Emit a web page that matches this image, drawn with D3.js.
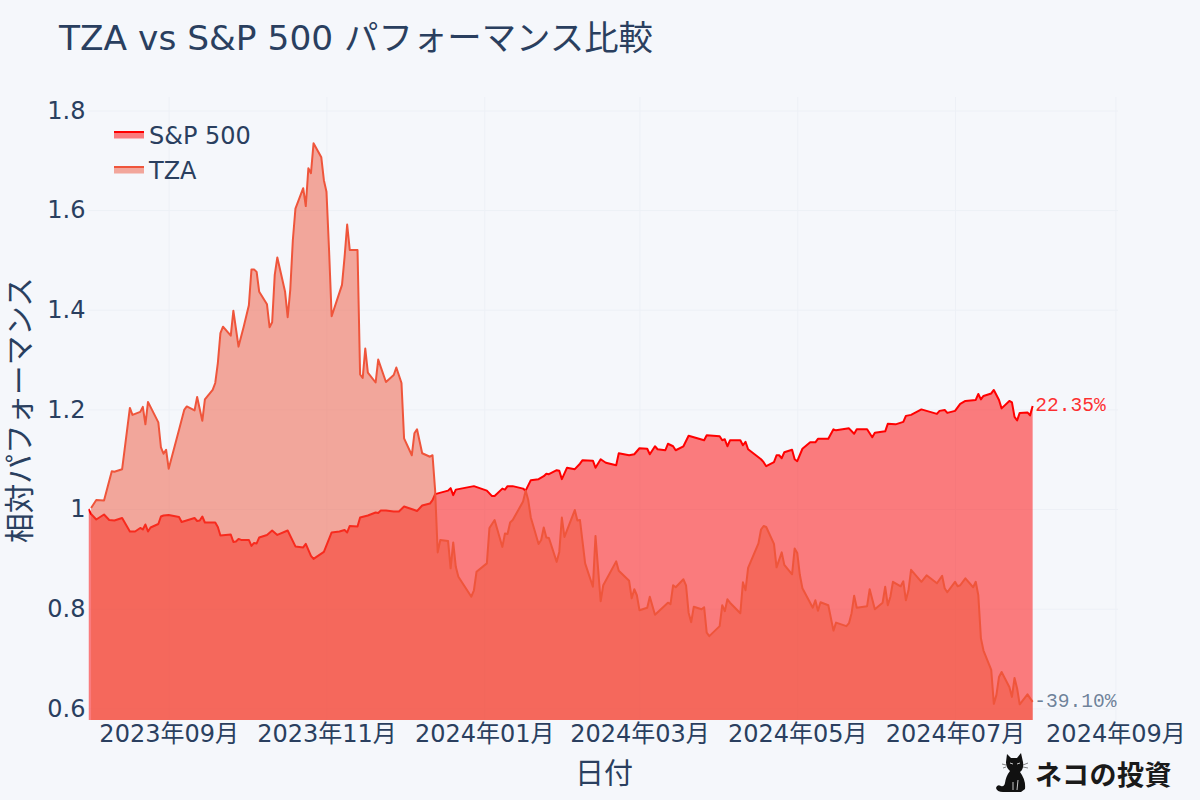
<!DOCTYPE html>
<html><head><meta charset="utf-8">
<script src="https://cdn.jsdelivr.net/npm/d3@7"></script>
<style>html,body{margin:0;padding:0;background:#f5f7fb}svg{display:block}</style>
</head><body><svg id="c" width="1200" height="800"></svg>
<script>
// Data: days since the start date, and relative performance
const startDate = "2023-08-01";
const spDays = [0,1,3,6,8,10,13,15,16,18,20,21,22,23,24,27,28,29,31,35,36,41,42,43,44,45,49,50,51,55,56,57,58,59,62,63,64,65,66,69,71,73,77,80,83,84,86,87,91,94,97,99,100,101,104,105,108,111,112,113,115,118,120,122,126,127,129,132,133,134,139,140,141,142,149,154,156,157,160,161,162,164,168,169,171,174,176,177,178,181,182,183,185,188,190,191,195,196,198,200,204,205,209,211,213,216,217,219,220,223,224,226,227,230,232,238,239,244,245,246,247,248,252,253,254,255,260,261,262,265,266,267,268,269,272,273,274,276,279,281,282,286,288,289,294,296,297,301,303,304,308,309,312,315,316,318,322,328,329,331,332,335,337,339,343,344,345,346,349,350,352,353,356,357,358,359,360,363,364,365];
const spValues = [1.000,0.990,0.979,0.989,0.978,0.977,0.982,0.964,0.955,0.955,0.962,0.959,0.969,0.955,0.963,0.970,0.985,0.987,0.988,0.984,0.974,0.982,0.976,0.977,0.985,0.973,0.973,0.964,0.947,0.949,0.934,0.935,0.940,0.938,0.938,0.926,0.932,0.931,0.943,0.948,0.957,0.948,0.957,0.925,0.923,0.930,0.906,0.900,0.914,0.953,0.955,0.958,0.953,0.966,0.965,0.983,0.987,0.993,0.992,0.997,0.997,0.995,0.995,1.005,0.998,0.996,1.007,1.011,1.018,1.030,1.037,1.042,1.028,1.039,1.046,1.037,1.026,1.026,1.041,1.039,1.046,1.046,1.041,1.037,1.058,1.060,1.066,1.071,1.070,1.078,1.077,1.060,1.083,1.080,1.091,1.098,1.097,1.083,1.100,1.093,1.088,1.112,1.108,1.110,1.122,1.121,1.110,1.126,1.120,1.118,1.131,1.126,1.118,1.126,1.147,1.138,1.148,1.146,1.138,1.140,1.126,1.138,1.138,1.128,1.135,1.120,1.100,1.094,1.086,1.094,1.108,1.108,1.102,1.114,1.119,1.100,1.096,1.121,1.134,1.134,1.141,1.141,1.160,1.158,1.162,1.151,1.160,1.160,1.144,1.153,1.156,1.171,1.170,1.175,1.187,1.189,1.200,1.191,1.197,1.199,1.193,1.197,1.211,1.217,1.219,1.231,1.220,1.227,1.232,1.239,1.219,1.202,1.217,1.214,1.185,1.178,1.193,1.194,1.188,1.207];
const tzaDays = [1,3,6,9,10,13,16,17,20,21,22,23,27,28,29,30,31,35,37,38,41,42,44,45,48,49,50,51,52,55,56,58,60,62,63,64,65,66,69,70,71,72,73,76,77,78,79,80,83,84,85,86,87,90,91,92,93,94,98,99,100,101,104,105,106,107,108,111,112,115,118,119,121,122,125,126,127,129,132,133,134,135,136,139,140,141,142,143,148,149,150,154,155,157,160,161,162,163,164,168,169,170,171,174,175,176,177,178,181,182,183,184,188,189,190,192,195,196,198,199,204,205,209,210,211,212,213,216,217,219,224,225,226,227,230,231,232,233,234,237,238,239,240,244,245,246,247,248,252,253,254,255,259,260,261,262,265,266,268,269,272,273,274,275,276,280,281,282,283,286,288,289,293,294,295,296,297,301,302,304,307,308,309,310,311,314,315,316,317,318,322,324,328,330,331,332,335,336,337,339,342,343,344,345,346,349,350,351,352,353,356,357,358,359,360,363,365];
const tzaValues = [1.002,1.018,1.017,1.076,1.075,1.080,1.203,1.189,1.195,1.205,1.170,1.215,1.174,1.124,1.111,1.119,1.081,1.159,1.199,1.206,1.198,1.225,1.177,1.220,1.239,1.253,1.293,1.353,1.366,1.348,1.398,1.326,1.366,1.409,1.481,1.481,1.476,1.436,1.411,1.365,1.375,1.470,1.505,1.436,1.385,1.440,1.540,1.603,1.644,1.608,1.684,1.674,1.734,1.706,1.660,1.637,1.520,1.387,1.450,1.506,1.571,1.520,1.520,1.270,1.263,1.322,1.274,1.254,1.300,1.255,1.269,1.284,1.253,1.142,1.108,1.152,1.160,1.112,1.105,1.108,1.038,0.913,0.938,0.936,0.881,0.933,0.884,0.864,0.824,0.837,0.874,0.891,0.962,0.978,0.924,0.951,0.950,0.973,0.978,1.015,1.037,1.018,0.983,0.930,0.938,0.963,0.943,0.942,0.894,0.914,0.983,0.944,0.998,0.977,0.978,0.891,0.844,0.946,0.815,0.847,0.895,0.876,0.856,0.821,0.839,0.827,0.797,0.802,0.824,0.788,0.812,0.809,0.847,0.843,0.859,0.847,0.792,0.773,0.804,0.799,0.803,0.752,0.745,0.765,0.807,0.795,0.819,0.812,0.791,0.853,0.837,0.882,0.931,0.959,0.966,0.964,0.930,0.883,0.913,0.888,0.869,0.921,0.912,0.868,0.841,0.802,0.817,0.796,0.813,0.807,0.756,0.772,0.765,0.771,0.791,0.826,0.802,0.805,0.839,0.799,0.812,0.844,0.807,0.824,0.854,0.845,0.855,0.817,0.837,0.878,0.854,0.867,0.851,0.866,0.841,0.833,0.854,0.845,0.847,0.861,0.843,0.854,0.827,0.741,0.716,0.677,0.609,0.627,0.663,0.673,0.643,0.623,0.661,0.640,0.608,0.628,0.613];
const xTickDates = ["2023-09-01","2023-11-01","2024-01-01","2024-03-01","2024-05-01","2024-07-01","2024-09-01"];
const yTickValues = [0.6,0.8,1,1.2,1.4,1.6,1.8];
const seriesNames = ["S&P 500","TZA"];
const endLabels = ["22.35%","-39.10%"];

const W=1200,H=800, L=88.5,R=1118,T=97,B=720;
const DAY=864e5, t0=Date.parse(startDate);
const toDate=d=>new Date(t0+d*DAY);
const x=d3.scaleUtc().domain([toDate(0),toDate(398)]).range([L,R]);
const y=d3.scaleLinear().domain([0.5766,1.827]).range([B,T]);
const CJK='"DejaVu Sans","Noto Sans CJK JP",sans-serif';
const ink='#2a3f5f', grid='#edf0f6';
const svg=d3.select('#c');
svg.append('rect').attr('width',W).attr('height',H).attr('fill','#f5f7fb');
svg.append('defs').append('clipPath').attr('id','plot').append('rect')
  .attr('x',L).attr('y',T).attr('width',R-L).attr('height',B-T);

// axes
const yAxis=d3.axisLeft(y).tickValues(yTickValues).tickSize(R-L).tickPadding(3)
  .tickFormat(d=>String(d));
const yg=svg.append('g').attr('transform',`translate(${R},0)`).call(yAxis);
yg.select('.domain').remove();
yg.selectAll('.tick line').attr('stroke',grid);
yg.selectAll('.tick text').attr('fill',ink).style('font','24px '+CJK);

const xAxis=d3.axisBottom(x).tickValues(xTickDates.map(d=>new Date(d))).tickSize(B-T).tickPadding(5)
  .tickFormat(d3.utcFormat('%Y年%m月'));
const xg=svg.append('g').attr('transform',`translate(0,${T})`).call(xAxis);
xg.select('.domain').remove();
xg.selectAll('.tick line').attr('stroke',grid);
xg.selectAll('.tick text').attr('fill',ink).style('font','24px '+CJK);

// series
const plot=svg.append('g').attr('clip-path','url(#plot)');
const series=[
 {days:spDays,vals:spValues,line:'#ff0000',fill:'rgba(255,0,0,0.5)'},
 {days:tzaDays,vals:tzaValues,line:'#EF553B',fill:'rgba(239,85,59,0.5)'}
];
series.forEach(s=>{
  const pts=s.days.map((d,i)=>[toDate(d),s.vals[i]]);
  plot.append('path').datum(pts).attr('fill',s.fill)
    .attr('d',d3.area().x(p=>x(p[0])).y0(B+5).y1(p=>y(p[1])));
  plot.append('path').datum(pts).attr('fill','none').attr('stroke',s.line).attr('stroke-width',2).attr('stroke-linejoin','round')
    .attr('d',d3.line().x(p=>x(p[0])).y(p=>y(p[1])));
});

// end labels
[[spDays,spValues,'#ff0000',0],[tzaDays,tzaValues,'#506784',1]].forEach(([ds,vs,c,i])=>{
  const n=ds.length-1;
  svg.append('text').attr('x',x(toDate(ds[n]))+(i?1.5:2.5)).attr('y',y(vs[n])).attr('dy','.26em').attr('fill-opacity',0.82)
    .attr('fill',c).style('font','19.6px "Liberation Mono",monospace').text(endLabels[i]);
});

// legend
[[132,seriesNames[0],0],[167,seriesNames[1],1]].forEach(([ly,name,i])=>{
  const s=series[i];
  svg.append('rect').attr('x',114).attr('y',ly).attr('width',30).attr('height',6.5).attr('fill',s.fill);
  svg.append('line').attr('x1',114).attr('x2',144).attr('y1',ly).attr('y2',ly).attr('stroke',s.line).attr('stroke-width',2);
  svg.append('text').attr('x',149).attr('y',ly+12).attr('fill',ink).style('font','24px '+CJK).text(name);
});

// titles
svg.append('text').attr('x',59).attr('y',50).attr('fill',ink).style('font','34.4px '+CJK).text('TZA vs S&P 500 パフォーマンス比較');
svg.append('text').attr('x',604).attr('y',784).attr('text-anchor','middle').attr('fill',ink).style('font','29px '+CJK).text('日付');
svg.append('text').attr('transform','translate(30,410) rotate(-90)').attr('text-anchor','middle').attr('fill',ink).style('font','29.6px '+CJK).text('相対パフォーマンス');

// watermark
const wm=svg.append('g');
wm.append('path').attr('fill','#111').attr('d','M1007 754 L1011 758 L1017 758 L1021 753 L1023 762 Q1024 769 1020 772 Q1026 780 1025 789 L1021 792 L1003 792 Q997 792 996 788 Q997 784 1001 786 Q1004 787 1005 783 Q1006 776 1010 771 Q1006 768 1006 762 Z');
wm.append('path').attr('stroke','#ddd').attr('stroke-width',0.9).attr('fill','none').attr('d','M1010 763 L1013 764 M1017 764 L1020 763 M1013 782 L1013 790 M1018 780 L1017 790');
wm.append('path').attr('stroke','#333').attr('stroke-width',0.6).attr('fill','none').attr('d','M1006 765 L1002 764 M1006 767 L1003 768 M1023 765 L1028 763 M1023 767 L1028 768');
wm.append('text').attr('x',1035).attr('y',785).attr('fill','#1a1a1a').style('font','700 27px "Noto Sans CJK JP",sans-serif').style('letter-spacing','0.5px').text('ネコの投資');
</script></body></html>
